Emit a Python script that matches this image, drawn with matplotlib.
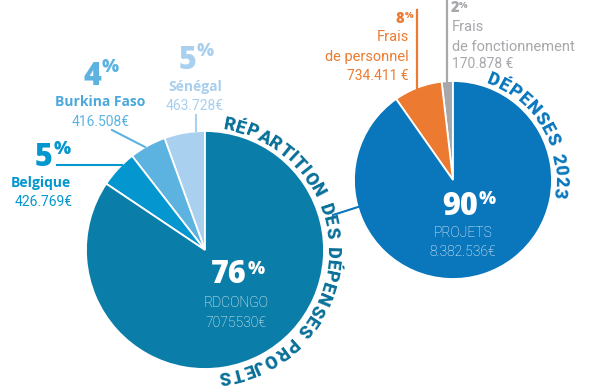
import math

import matplotlib
matplotlib.use("Agg")
import matplotlib.pyplot as plt

# --- data -------------------------------------------------------------
countries = ["Sénégal", "Burkina Faso", "Belgique", "RDCONGO"]
country_amounts = [463728, 416508, 426769, 7075530]
country_amount_labels = ["463.728€", "416.508€", "426.769€", "7075530€"]
country_pct_labels = ["5", "4", "5", "76"]
country_colors = ["#a9d0ee", "#5db3e0", "#0497cf", "#0a7ea8"]

expense_names = ["Frais\nde fonctionnement", "Frais\nde personnel", "PROJETS"]
expense_amounts = [170878, 734411, 8382536]
expense_amount_labels = ["170.878 €", "734.411 €", "8.382.536€"]
expense_pct_labels = ["2", "8", "90"]
expense_colors = ["#a6a8ab", "#ec7b31", "#0a77bd"]

left_title = "RÉPARTITION DES DÉPENSES PROJETS"
right_title = "DÉPENSES 2023"

BOLD = ["Open Sans", "DejaVu Sans"]
LIGHT = ["Roboto", "DejaVu Sans"]
ARC = ["Roboto", "DejaVu Sans"]
H = 388


def Y(v):
    return H - v


fig = plt.figure(figsize=(6, 3.88), dpi=100)
ax = fig.add_axes([0, 0, 1, 1])

LC, LR = (205, Y(250)), 119
RC, RR = (453, Y(180)), 99

ax.pie(country_amounts, colors=country_colors, startangle=90, counterclock=True,
       center=LC, radius=LR, wedgeprops=dict(edgecolor="white", linewidth=1.3))
ax.pie(expense_amounts, colors=expense_colors, startangle=90, counterclock=True,
       center=RC, radius=RR, wedgeprops=dict(edgecolor="white", linewidth=1.3))
ax.set_xlim(0, 600)
ax.set_ylim(0, H)
ax.set_aspect("equal")
ax.axis("off")

renderer = fig.canvas.get_renderer()


def curved_text(text, center, r, start, end, size, color):
    widths = []
    for ch in text:
        if ch == " ":
            widths.append(size * 0.55)
            continue
        t = ax.text(0, 0, ch, fontsize=size, fontweight="heavy", family=ARC)
        widths.append(t.get_window_extent(renderer).width)
        t.remove()
    span = math.radians(start - end) * r
    inner = span - widths[0] / 2 - widths[-1] / 2
    gap = (inner - sum(widths[1:-1])) / (len(text) - 1)
    s = 0.0
    for i, ch in enumerate(text):
        if i > 0:
            s += widths[i - 1] / 2 + gap + widths[i] / 2
        th = math.radians(start) - s / r
        x = center[0] + r * math.cos(th)
        y = center[1] + r * math.sin(th)
        ax.text(x, y, ch, fontsize=size, fontweight="heavy", family=ARC, color=color,
                rotation=math.degrees(th) - 90, rotation_mode="anchor",
                ha="center", va="baseline")


curved_text(left_title, LC, 122, 79, -81, 13, "#0a7099")
curved_text(right_title, RC, 102, 68, -7, 13, "#0a77bd")


def pct(x, y, num, color, size, psize, dy):
    ax.text(x, Y(y), num, fontsize=size, fontweight="heavy", family=BOLD,
            color=color, ha="right", va="center")
    ax.text(x + 1, Y(y - dy), "%", fontsize=psize, fontweight="heavy", family=BOLD,
            color=color, ha="left", va="center")


# left pie labels
sen, bur, bel, rdc = range(4)
pct(196, 61, country_pct_labels[sen], country_colors[sen], 22, 13, 9)
ax.text(195, Y(87), countries[sen], fontsize=10, fontweight="bold", family=BOLD,
        color="#a9cfee", ha="center", va="center")
ax.text(195, Y(106), country_amount_labels[sen], fontsize=10,
        family=LIGHT, color="#a9cfee", ha="center", va="center")
ax.plot([196, 196], [Y(115), Y(131)], color=country_colors[sen], lw=1.5)

pct(101, 77, country_pct_labels[bur], country_colors[bur], 22, 13, 9)
ax.text(100, Y(102), countries[bur], fontsize=10, fontweight="bold", family=BOLD,
        color="#4aa8db", ha="center", va="center")
ax.text(101, Y(122), country_amount_labels[bur], fontsize=10,
        family=LIGHT, color="#5db3e0", ha="center", va="center")
ax.plot([112, 145], [Y(130), Y(147)], color=country_colors[bur], lw=1.5)

pct(53, 158, country_pct_labels[bel], country_colors[bel], 22, 13, 8)
ax.text(41, Y(183), countries[bel], fontsize=10, fontweight="bold", family=BOLD,
        color=country_colors[bel], ha="center", va="center")
ax.text(44, Y(202), country_amount_labels[bel], fontsize=10,
        family=LIGHT, color=country_colors[bel], ha="center", va="center")
ax.plot([57, 122], [Y(165), Y(165)], color=country_colors[bel], lw=1.5)

pct(247, 275, country_pct_labels[rdc], "white", 22, 13, 6)
ax.text(236, Y(303), countries[rdc], fontsize=10, fontweight="light", family=LIGHT,
        color="white", ha="center", va="center")
ax.text(236, Y(323), country_amount_labels[rdc], fontsize=10, fontweight="light",
        family=LIGHT, color="white", ha="center", va="center")

# right pie labels
fon, per, pro = range(3)
pct(478, 207, expense_pct_labels[pro], "white", 22, 13, 7)
ax.text(463, Y(233), expense_names[pro], fontsize=10, fontweight="light", family=LIGHT,
        color="white", ha="center", va="center")
ax.text(463, Y(252), expense_amount_labels[pro], fontsize=10, fontweight="light",
        family=LIGHT, color="white", ha="center", va="center")

pct(404, 19, expense_pct_labels[per], expense_colors[per], 10.5, 6.5, 4)
ax.text(409, Y(47), expense_names[per], fontsize=10.5, family=LIGHT, color=expense_colors[per],
        ha="right", va="center", linespacing=1.5)
ax.text(409, Y(76), expense_amount_labels[per], fontsize=10,
        family=LIGHT, color=expense_colors[per], ha="right", va="center")
ax.plot([417, 417], [Y(10), Y(88)], color=expense_colors[per], lw=1.6)

ax.text(451, Y(8), expense_pct_labels[fon], fontsize=10.5, fontweight="heavy", family=BOLD,
        color=expense_colors[fon], ha="left", va="center")
ax.text(459, Y(5), "%", fontsize=6.5, fontweight="heavy", family=BOLD,
        color=expense_colors[fon], ha="left", va="center")
ax.text(452, Y(37), expense_names[fon], fontsize=10.5, family=LIGHT, color=expense_colors[fon],
        ha="left", va="center", linespacing=1.5)
ax.text(452, Y(64), expense_amount_labels[fon], fontsize=10,
        family=LIGHT, color=expense_colors[fon], ha="left", va="center")
ax.plot([447, 447], [Y(1), Y(82)], color=expense_colors[fon], lw=1.6)

# connector between the two pies
ax.plot([333, 358], [Y(215), Y(207)], color=expense_colors[pro], lw=1.5)

fig.savefig("out.png", dpi=100)
